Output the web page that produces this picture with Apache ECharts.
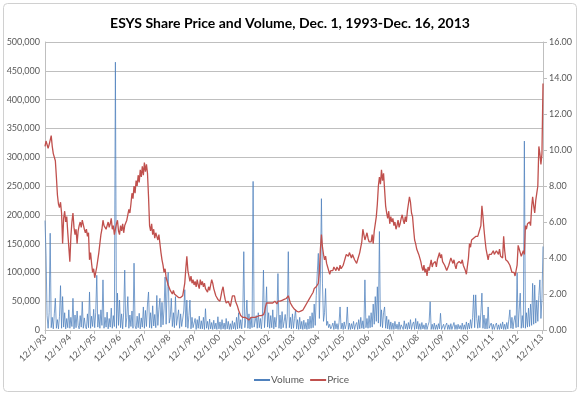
<!DOCTYPE html>
<html>
<head>
<meta charset="utf-8">
<title>ESYS Share Price and Volume</title>
<script src="https://cdn.jsdelivr.net/npm/echarts@6/dist/echarts.min.js"></script>
<style>
html, body { margin: 0; padding: 0; background: #fff; }
#main { width: 580px; height: 396px; }
</style>
</head>
<body>
<div id="main"></div>
<script>
// half-monthly readings (1st and 16th), 12/1/93 .. 12/16/13
// price in dollars, one row per year starting at Dec 1
var price = [
    10.2, 10.5, 10.6, 10.1, 10.3, 10.4, 10.8, 10.2, 9.8, 9.9, 9.4, 8.5, 7.5, 7.0, 6.8, 7.1, 6.5, 4.8, 6.2, 6.6, 6.0, 6.3, 5.4, 4.6,
    3.8, 5.2, 6.0, 6.5, 5.7, 5.3, 5.6, 4.8, 5.5, 5.8, 6.0, 5.7, 6.1, 6.0, 5.6, 5.4, 5.6, 5.2, 5.4, 3.9, 4.3, 3.7, 3.2, 3.4,
    2.9, 3.0, 3.5, 3.9, 4.3, 4.8, 5.3, 5.6, 6.1, 5.8, 5.9, 5.6, 5.8, 6.0, 5.7, 5.9, 6.2, 5.6, 5.8, 5.3, 5.6, 5.9, 6.1, 5.5,
    5.3, 5.8, 5.5, 5.9, 5.4, 5.8, 5.9, 6.1, 6.4, 6.7, 6.5, 7.0, 7.6, 7.3, 8.0, 7.6, 8.3, 8.0, 8.6, 8.2, 8.9, 8.5, 9.1, 8.6,
    9.3, 8.8, 9.2, 8.7, 7.4, 5.8, 5.5, 5.9, 5.3, 5.6, 5.1, 5.4, 5.2, 5.0, 5.3, 4.8, 4.3, 3.9, 3.6, 3.2, 3.4, 2.9, 2.8, 2.5,
    2.4, 2.2, 2.3, 2.0, 2.2, 2.0, 2.1, 1.9, 2.0, 1.8, 1.9, 1.8, 1.7, 1.9, 1.8, 2.6, 3.4, 4.1, 3.3, 3.0, 2.7, 3.0, 2.6, 2.8,
    2.5, 2.7, 2.4, 2.8, 2.5, 2.3, 2.8, 2.5, 2.7, 2.4, 2.6, 2.3, 2.2, 2.1, 2.4, 2.2, 2.5, 2.8, 2.6, 2.3, 2.1, 1.9, 2.0, 1.7,
    1.8, 1.6, 1.9, 2.2, 2.4, 2.0, 1.7, 1.5, 1.4, 1.6, 1.5, 1.3, 1.6, 1.9, 1.8, 1.9, 1.6, 1.5, 1.3, 1.1, 0.95, 0.8, 0.75, 0.7,
    0.65, 0.7, 0.6, 0.65, 0.6, 0.55, 0.6, 0.7, 0.65, 0.7, 0.75, 0.7, 0.65, 0.75, 0.7, 0.8, 0.75, 0.8, 0.75, 0.85, 1.0, 1.3, 1.5, 1.4,
    1.5, 1.4, 1.5, 1.4, 1.5, 1.4, 1.6, 1.5, 1.45, 1.6, 1.55, 1.6, 1.7, 1.65, 1.75, 1.7, 1.8, 1.75, 1.85, 1.9, 1.7, 1.5, 1.4, 1.3,
    1.2, 1.15, 1.1, 1.05, 1.1, 1.0, 1.1, 1.05, 1.15, 1.1, 1.2, 1.3, 1.35, 1.5, 1.6, 1.7, 1.8, 1.9, 2.0, 2.1, 2.3, 2.35, 2.4, 2.5,
    2.6, 3.2, 4.5, 5.3, 4.6, 4.2, 3.9, 4.1, 3.7, 3.5, 3.3, 3.1, 3.3, 3.2, 3.3, 3.5, 3.4, 3.3, 3.5, 3.4, 3.3, 3.6, 3.4, 3.5,
    3.6, 3.8, 4.0, 4.2, 4.3, 4.1, 4.3, 4.2, 4.0, 4.2, 4.1, 3.9, 3.8, 3.7, 3.9, 4.0, 4.3, 4.6, 4.9, 5.6, 5.3, 5.0, 5.2, 5.4,
    5.1, 4.9, 4.8, 4.9, 5.3, 4.8, 5.5, 5.9, 6.3, 7.0, 8.0, 8.5, 8.1, 8.9, 8.3, 8.7, 7.8, 6.9, 6.5, 6.2, 6.6, 5.9, 6.3, 6.0,
    6.2, 5.8, 6.0, 5.6, 5.8, 6.1, 5.7, 5.9, 6.2, 6.4, 6.1, 5.9, 6.3, 6.0, 6.6, 7.0, 7.4, 7.1, 6.5, 6.3, 5.6, 5.0, 4.8, 4.5,
    4.4, 4.2, 4.3, 3.8, 3.5, 3.3, 3.6, 3.2, 3.4, 3.0, 3.5, 3.3, 3.6, 3.9, 3.5, 3.7, 3.6, 3.8, 3.5, 3.9, 4.1, 4.3, 4.0, 4.2,
    3.8, 3.9, 3.6, 3.5, 3.3, 3.4, 3.6, 3.8, 4.0, 3.9, 3.7, 3.9, 3.6, 3.4, 3.7, 3.6, 3.8, 3.9, 3.7, 3.9, 3.6, 3.5, 3.3, 3.1,
    3.2, 4.0, 4.8, 4.6, 5.0, 4.9, 5.1, 5.0, 5.2, 5.3, 5.2, 5.4, 5.3, 5.8, 6.9, 6.3, 5.6, 5.0, 4.5, 4.2, 3.9, 4.2, 4.3, 4.2,
    4.3, 4.4, 4.2, 4.3, 4.4, 4.3, 4.2, 4.5, 4.1, 4.2, 4.0, 5.2, 4.4, 3.9, 4.0, 3.8, 3.7, 3.6, 3.4, 3.2, 3.1, 3.2, 3.0, 3.1,
    3.6, 4.7, 4.5, 4.3, 4.1, 4.2, 4.4, 4.2, 5.8, 5.6, 5.9, 5.8, 6.0, 5.8, 6.8, 7.4, 6.9, 6.5, 7.2, 7.6, 8.0, 10.2, 9.8, 9.2, 9.8, 13.7
];

// volume in thousands of shares, same dates
var volumeK = [
    190, 130, 25, 3, 30, 168, 4, 22, 2, 28, 55, 3, 18, 2, 24, 77, 3, 58, 5, 30, 2, 20, 4, 35,
    3, 22, 6, 55, 2, 26, 4, 33, 8, 2, 25, 5, 49, 3, 21, 6, 2, 28, 4, 66, 3, 24, 6, 36,
    4, 30, 95, 5, 27, 3, 35, 8, 87, 3, 22, 5, 31, 2, 20, 5, 38, 3, 25, 6, 465, 3, 64, 8,
    52, 4, 28, 2, 30, 104, 5, 22, 58, 3, 26, 6, 33, 3, 116, 7, 2, 24, 4, 29, 2, 21, 5, 40,
    3, 34, 6, 45, 66, 4, 30, 3, 42, 7, 27, 4, 60, 8, 36, 55, 5, 48, 9, 38, 92, 10, 75, 100,
    12, 22, 55, 6, 30, 4, 58, 8, 5, 35, 3, 28, 6, 4, 33, 70, 5, 52, 3, 25, 52, 2, 22, 4,
    2, 20, 1, 18, 3, 24, 2, 16, 2, 22, 1, 37, 3, 15, 1, 19, 2, 13, 1, 17, 2, 12, 1, 23,
    2, 14, 1, 18, 2, 12, 1, 20, 2, 15, 1, 11, 1, 16, 2, 13, 1, 22, 2, 30, 3, 18, 2, 25,
    136, 4, 20, 52, 3, 28, 2, 22, 4, 258, 5, 2, 25, 3, 30, 4, 20, 2, 24, 104, 4, 28, 75, 5,
    30, 3, 25, 4, 35, 2, 22, 5, 28, 98, 3, 26, 2, 32, 4, 15, 27, 3, 24, 136, 4, 22, 2, 28,
    3, 20, 35, 2, 18, 1, 22, 2, 15, 1, 17, 2, 13, 1, 19, 2, 24, 3, 30, 4, 45, 8, 60, 100,
    133, 20, 90, 228, 80, 15, 30, 72, 8, 15, 4, 10, 2, 6, 12, 1, 16, 2, 11, 1, 13, 40, 2, 12,
    1, 14, 2, 10, 40, 1, 12, 1, 11, 2, 15, 1, 9, 13, 1, 18, 2, 22, 3, 16, 2, 87, 4, 20,
    3, 25, 4, 30, 5, 45, 10, 58, 15, 75, 12, 171, 6, 35, 4, 30, 40, 3, 24, 2, 18, 1, 14, 1,
    12, 1, 15, 2, 10, 1, 14, 1, 9, 12, 1, 16, 2, 11, 1, 13, 2, 18, 1, 10, 14, 1, 20, 2,
    15, 1, 11, 1, 13, 2, 9, 1, 12, 1, 8, 14, 49, 1, 10, 1, 12, 1, 9, 1, 11, 2, 29, 1,
    1, 10, 1, 8, 12, 1, 9, 1, 11, 1, 7, 13, 1, 9, 1, 10, 2, 8, 1, 12, 1, 9, 1, 14,
    1, 12, 2, 18, 3, 22, 61, 4, 61, 20, 3, 25, 4, 30, 64, 3, 26, 2, 20, 2, 40, 3, 8, 12,
    1, 10, 1, 8, 12, 1, 9, 1, 11, 2, 14, 1, 10, 1, 13, 2, 18, 35, 3, 22, 2, 16, 25, 4,
    99, 5, 35, 64, 3, 25, 4, 328, 3, 30, 5, 38, 6, 45, 8, 81, 10, 78, 12, 52, 15, 60, 87, 20, 55, 145
];

var volume = volumeK.map(function (v) { return v * 1000; });

// dates: 1st and 16th of each month from 12/1/93
var dates = [];
for (var k = 0; k < price.length; k++) {
    var m = 11 + Math.floor(k / 2);
    var yr = 1993 + Math.floor(m / 12);
    dates.push((m % 12 + 1) + '/' + (k % 2 ? 16 : 1) + '/' + String(yr).slice(2));
}

var FONT = 'Lato, "Liberation Sans", sans-serif';
var GRID = '#BFBFBF';
var TXT = '#595959';

function yearTick(index) {
    return index % 24 === 0;
}

var chart = echarts.init(document.getElementById('main'));

chart.setOption({
    animation: false,
    textStyle: { fontFamily: FONT },
    title: {
        text: 'ESYS Share Price and Volume, Dec. 1, 1993-Dec. 16, 2013',
        left: 'center',
        top: 11,
        textStyle: { fontFamily: FONT, fontSize: 14, fontWeight: 'bold', color: '#000' }
    },
    graphic: [{
        type: 'rect',
        shape: { x: 3.5, y: 3.5, width: 573, height: 388, r: 4 },
        style: { fill: 'none', stroke: '#D0D0D0', lineWidth: 1 },
        silent: true
    }],
    legend: {
        data: ['Volume', 'Price'],
        left: 249,
        top: 370,
        itemWidth: 16,
        itemHeight: 2,
        itemGap: 6,
        icon: 'rect',
        textStyle: { fontFamily: FONT, fontSize: 10, color: TXT, padding: [0, 0, 0, -4] }
    },
    grid: {
        left: 45,
        right: 37,
        top: 42,
        bottom: 66,
        containLabel: false
    },
    xAxis: {
        type: 'category',
        boundaryGap: false,
        data: dates,
        axisLine: { lineStyle: { color: GRID } },
        axisTick: { show: true, interval: yearTick, length: 4, lineStyle: { color: GRID } },
        axisLabel: {
            interval: yearTick,
            rotate: 45,
            fontSize: 9,
            color: TXT,
            margin: 6
        },
        splitLine: { show: false }
    },
    yAxis: [{
        type: 'value',
        min: 0,
        max: 500000,
        interval: 50000,
        axisLine: { show: true, lineStyle: { color: GRID } },
        axisTick: { show: false },
        axisLabel: {
            fontSize: 9,
            color: TXT,
            margin: 5,
            formatter: function (v) { return v.toLocaleString('en-US'); }
        },
        splitLine: { lineStyle: { color: GRID, width: 1 } }
    }, {
        type: 'value',
        min: 0,
        max: 16,
        interval: 2,
        position: 'right',
        axisLine: { show: true, lineStyle: { color: GRID } },
        axisTick: { show: true, length: 4, lineStyle: { color: GRID } },
        axisLabel: {
            fontSize: 9,
            color: TXT,
            margin: 6,
            formatter: function (v) { return v.toFixed(2); }
        },
        splitLine: { show: false }
    }],
    series: [{
        name: 'Volume',
        type: 'line',
        yAxisIndex: 0,
        data: volume,
        showSymbol: false,
        symbol: 'none',
        lineStyle: { color: '#4F81BD', width: 0.9, opacity: 0.85 },
        itemStyle: { color: '#4F81BD' },
        z: 2
    }, {
        name: 'Price',
        type: 'line',
        yAxisIndex: 1,
        data: price,
        showSymbol: false,
        symbol: 'none',
        lineStyle: { color: '#C0504D', width: 1.3 },
        itemStyle: { color: '#C0504D' },
        z: 3
    }]
});
</script>
</body>
</html>
